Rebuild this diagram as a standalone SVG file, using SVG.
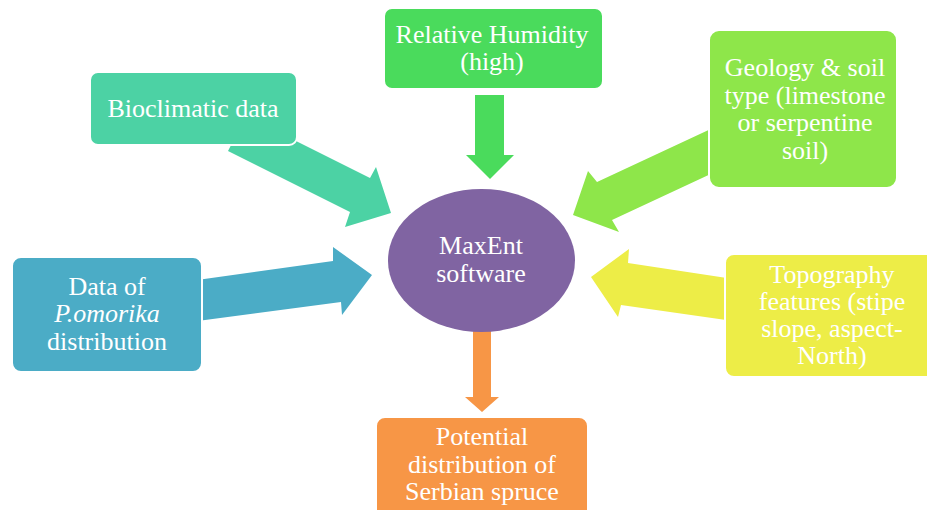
<svg xmlns="http://www.w3.org/2000/svg" width="927" height="510" viewBox="0 0 927 510">
<style>
.box{stroke:#fff;stroke-width:2}
.t{font-family:"Liberation Serif","Times New Roman",serif;font-size:26px;fill:#fff;text-anchor:middle}
</style>
<rect width="927" height="510" fill="#fff"/>
<g id="connectors">
<polygon fill="#4cd2a4" points="228,151 246,116 370,178 376,167 391,213 345,227 350,212"/>
<polygon fill="#4adb5c" points="475,95 504,95 504,155 514,155 490,179 466,155 475,155"/>
<polygon fill="#8ee64a" points="730,120 597,182 588,171 573,215 619,232 612,220 730,165"/>
<polygon fill="#4bacc6" points="190,281 333,261 333,247 372,275 342,315 341,302 190,322"/>
<polygon fill="#eded47" points="740,280 628,263 629,249 591,277 618,317 621,305 740,322"/>
<polygon fill="#f79646" points="473,330 491,330 491,397 499,397 482,412 465,397 473,397"/>
</g>
<g id="bioclimatic">
<rect class="box" x="90" y="72" width="207" height="73" rx="8" fill="#4cd2a4"/>
<text class="t" x="193" y="117">Bioclimatic data</text>
</g>
<g id="humidity">
<rect class="box" x="384" y="8" width="219" height="81" rx="8" fill="#4adb5c"/>
<text class="t" x="492" y="43">Relative Humidity</text>
<text class="t" x="492" y="70">(high)</text>
</g>
<g id="geology">
<rect class="box" x="709" y="30" width="188" height="158" rx="10" fill="#8ee64a"/>
<text class="t" x="805" y="76">Geology &amp; soil</text>
<text class="t" x="805" y="104">type (limestone</text>
<text class="t" x="805" y="131">or serpentine</text>
<text class="t" x="805" y="159">soil)</text>
</g>
<g id="data">
<rect class="box" x="12" y="257" width="190" height="115" rx="9" fill="#4bacc6"/>
<text class="t" x="107" y="295">Data of</text>
<text class="t" x="107" y="322" font-style="italic">P.omorika</text>
<text class="t" x="107" y="350">distribution</text>
</g>
<g id="maxent">
<ellipse cx="481.5" cy="260.5" rx="93.5" ry="71.5" fill="#8064a2"/>
<text class="t" x="481" y="254">MaxEnt</text>
<text class="t" x="481" y="282">software</text>
</g>
<g id="topography">
<rect class="box" x="725" y="254" width="220" height="123" rx="9" fill="#eded47"/>
<text class="t" x="832" y="283">Topography</text>
<text class="t" x="832" y="310">features (stipe</text>
<text class="t" x="832" y="337">slope, aspect-</text>
<text class="t" x="832" y="364">North)</text>
</g>
<g id="potential">
<rect class="box" x="376" y="417" width="212" height="110" rx="9" fill="#f79646"/>
<text class="t" x="482" y="445">Potential</text>
<text class="t" x="482" y="473">distribution of</text>
<text class="t" x="482" y="500">Serbian spruce</text>
</g>
</svg>
